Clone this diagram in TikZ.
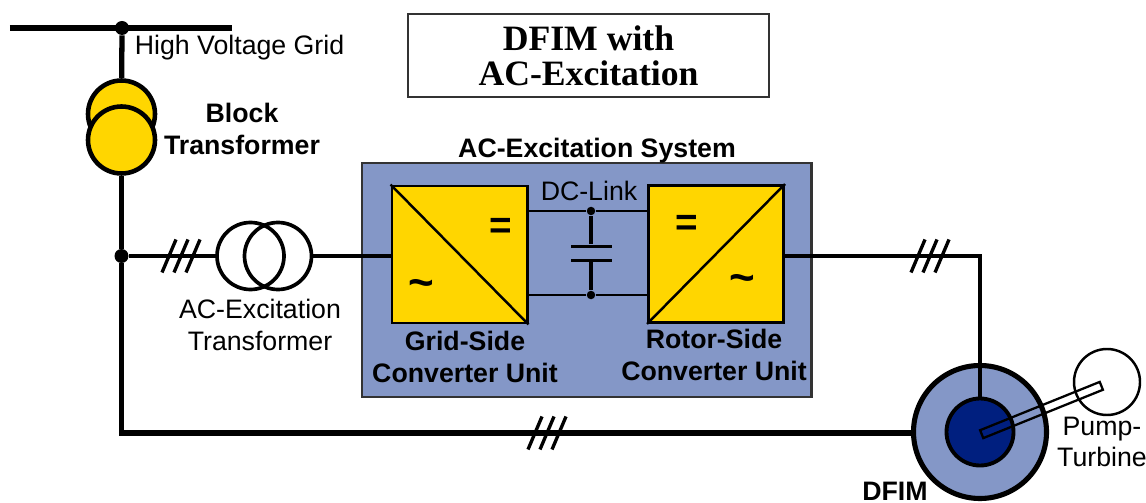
\documentclass[tikz,border=0pt]{standalone}
\usepackage{fontspec}
\setmainfont{Liberation Sans}
\newfontfamily\titlefont{Liberation Serif}
\usepackage{tikz}
\usetikzlibrary{positioning,calc}
\definecolor{sysblue}{HTML}{8497C7}
\definecolor{rotorblue}{HTML}{001F7F}
\definecolor{convyellow}{HTML}{FFD600}

\begin{document}
\begin{tikzpicture}[
  font=\fontsize{15.2}{18}\selectfont,
  wire/.style={draw,line width=1.9pt},
  dcwire/.style={draw,line width=1.4pt},
  bus/.style={draw,line width=3pt},
  dot/.style={circle,fill=black,inner sep=0pt,minimum size=0.28cm},
  smalldot/.style={circle,fill=black,inner sep=0pt,minimum size=0.17cm},
  winding/.style={draw,circle,line width=2.1pt,minimum size=1.34cm,inner sep=0pt},
  blockwinding/.style={draw,circle,line width=2.6pt,fill=convyellow,minimum size=1.34cm,inner sep=0pt},
  converter/.style={draw,line width=1.7pt,fill=convyellow,minimum width=2.7cm,minimum height=2.74cm,inner sep=0pt},
  plate/.style={fill=black,minimum width=0.82cm,minimum height=0.06cm,inner sep=0pt},
  label/.style={align=center,inner sep=0pt},
  boldlabel/.style={align=center,inner sep=0pt,font=\fontsize{15.2}{18}\selectfont\bfseries},
  eqsymbol/.style={inner sep=0pt,font=\fontsize{22}{22}\selectfont\bfseries},
  tildesymbol/.style={inner sep=0pt,font=\fontsize{25}{25}\selectfont\bfseries}
]
\useasboundingbox (0,0) rectangle (22.92,10.04);

% title
\node[draw=black!80,line width=0.9pt,minimum width=7.22cm,minimum height=1.66cm,align=center,inner sep=0pt,
  font=\fontsize{20.3}{20}\titlefont\bfseries] (title) at (11.77,8.93) {DFIM with\\AC-Excitation};

% grid and block transformer
\coordinate (busl) at (0.2,9.48);
\coordinate (busr) at (4.64,9.48);
\node[dot] (hv) at (2.44,9.48) {};
\draw[bus] (busl) -- (busr);
\node[blockwinding] (btop) at (2.43,7.76) {};
\node[blockwinding] (bbot) at (2.43,7.24) {};
\draw[bus] (hv) -- (btop);
\node[label,anchor=west] (hvlabel) at (2.69,9.08) {High Voltage Grid};
\node[boldlabel] (blocklabel) at (4.84,7.46) {Block\\Transformer};

% excitation system
\node[draw=black!80,line width=1.7pt,fill=sysblue,minimum width=8.98cm,minimum height=4.68cm,inner sep=0pt] (system) at (11.73,4.44) {};
\node[boldlabel,above=-0.04cm of system,xshift=0.21cm] (systemlabel) {AC-Excitation System};
\node[converter] (gsc) at (9.19,4.95) {};
\node[converter] (rsc) at (14.32,4.96) {};
\draw[line width=1.4pt] (gsc.north west) -- (gsc.south east);
\draw[line width=1.4pt] (rsc.south west) -- (rsc.north east);
\node[eqsymbol] (gsceq) at (10.01,5.48) {=};
\node[tildesymbol] (gsctilde) at (8.42,4.27) {\char`\~};
\node[eqsymbol] (rsceq) at (13.73,5.53) {=};
\node[tildesymbol] (rsctilde) at (14.84,4.37) {\char`\~};
\node[boldlabel] (gsclabel) at (9.3,2.9) {Grid-Side\\Converter Unit};
\node[boldlabel] (rsclabel) at (14.28,2.94) {Rotor-Side\\Converter Unit};

% dc link
\node[label] (dclabel) at (11.78,6.22) {DC-Link};
\node[smalldot] (dctop) at (11.82,5.82) {};
\node[smalldot] (dcbot) at (11.82,4.14) {};
\node[plate] (capa) at (11.82,5.12) {};
\node[plate] (capb) at (11.82,4.84) {};
\draw[wire] (dctop) -- (capa);
\draw[wire] (dcbot) -- (capb);
\draw[dcwire] (gsc.east |- dctop) -- (dctop) -- (rsc.west |- dctop);
\draw[dcwire] (gsc.east |- dcbot) -- (dcbot) -- (rsc.west |- dcbot);

% ac excitation transformer
\node[dot] (junction) at (2.43,4.92) {};
\node[winding] (acxl) at (5.01,4.92) {};
\node[winding] (acxr) at (5.56,4.92) {};
\node[label] (acxlabel) at (5.2,3.54) {AC-Excitation\\Transformer};
\draw[wire] (junction) -- (acxl);
\draw[wire] (acxr) -- (acxr.east -| gsc.west);

% machine and turbine
\node[draw,circle,line width=2.9pt,fill=sysblue,minimum size=2.66cm,inner sep=0pt] (dfim) at (19.6,1.4) {};
\node[draw,circle,line width=2.2pt,fill=rotorblue,minimum size=1.34cm,inner sep=0pt] (rotor) at (19.6,1.4) {};
\node[draw,circle,line width=1.4pt,fill=white,minimum size=1.32cm,inner sep=0pt] (turbine) at (22.14,2.4) {};
\node[draw,line width=1.3pt,rotate=22,minimum width=2.58cm,minimum height=0.17cm,inner sep=0pt] (shaft) at (20.83,1.84) {};
\node[inner sep=0pt,font=\fontsize{15.2}{18}\selectfont\bfseries] (dfimlabel) at (17.9,0.22) {DFIM};
\node[label] (turbinelabel) at (22.04,1.2) {Pump-\\Turbine};

% feeders
\coordinate (rotorcorner) at (19.6,4.92);
\coordinate (gridcorner) at (2.43,1.38);
\draw[bus] (bbot) -- (junction) -- (gridcorner) -- (gridcorner -| dfim.west);
\draw[wire] (rsc.east |- rotorcorner) -- (rotorcorner) -- (rotor.north);

% three phase marks
\foreach \hx/\hy in {3.62/4.92,10.94/1.38,18.6/4.92}
  \foreach \hs in {-0.24,0,0.24}
    \draw[wire] (\hx+\hs-0.14,\hy-0.33) -- (\hx+\hs+0.14,\hy+0.33);
\end{tikzpicture}
\end{document}
